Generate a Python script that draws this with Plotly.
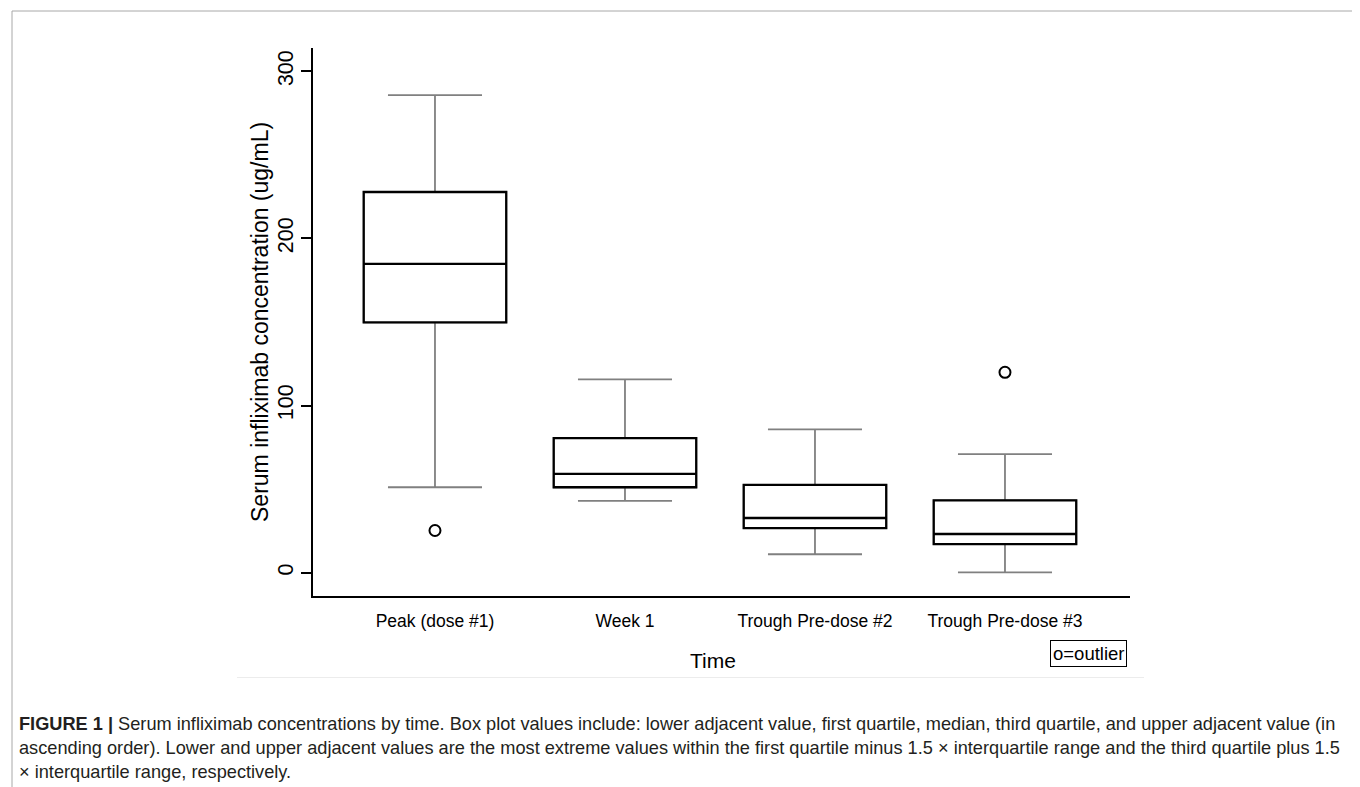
import plotly.graph_objects as go

# ---- data ----
categories = ["Peak (dose #1)", "Week 1", "Trough Pre-dose #2", "Trough Pre-dose #3"]
lower_adjacent = [51.1, 42.9, 11.0, 0.2]
q1_values = [149.8, 51.1, 26.6, 17.1]
median_values = [184.8, 59.1, 32.7, 23.1]
q3_values = [227.8, 80.5, 52.5, 43.2]
upper_adjacent = [285.8, 115.7, 85.7, 70.9]
outlier_categories = ["Peak (dose #1)", "Trough Pre-dose #3"]
outlier_values = [25.2, 119.9]
y_ticks = [0, 100, 200, 300]

caption_lines = [
    "<b>FIGURE 1 |</b> Serum infliximab concentrations by time. Box plot values include: lower adjacent value, first quartile, median, third quartile, and upper adjacent value (in",
    "ascending order). Lower and upper adjacent values are the most extreme values within the first quartile minus 1.5 \u00d7 interquartile range and the third quartile plus 1.5",
    "\u00d7 interquartile range, respectively.",
]

W, H = 1360, 787
ML, MR, MT, MB = 305, 238, 40, 199
PW, PH = W - ML - MR, H - MT - MB


def px_x(x):
    return (x - ML) / PW


def px_y(y):
    return (H - MB - y) / PH


FONT = "Liberation Sans, Arial, Helvetica, sans-serif"

fig = go.Figure()

# whiskers (grey)
fig.add_trace(go.Box(
    x=categories, q1=q1_values, median=median_values, q3=q3_values,
    lowerfence=lower_adjacent, upperfence=upper_adjacent,
    width=0.75, whiskerwidth=0.66,
    line=dict(color="#808080", width=1.8), fillcolor="white",
    boxpoints=False, hoverinfo="skip", showlegend=False,
))
# boxes (black)
fig.add_trace(go.Box(
    x=categories, q1=q1_values, median=median_values, q3=q3_values,
    lowerfence=q1_values, upperfence=q3_values,
    width=0.75, whiskerwidth=0.0,
    line=dict(color="black", width=2.3), fillcolor="white",
    boxpoints=False, showlegend=False,
))
# outliers
fig.add_trace(go.Scatter(
    x=outlier_categories, y=outlier_values, mode="markers",
    marker=dict(symbol="circle-open", size=11, color="black", line=dict(width=2)),
    showlegend=False,
))

fig.update_layout(
    width=W, height=H,
    margin=dict(l=ML, r=MR, t=MT, b=MB, pad=0),
    paper_bgcolor="white", plot_bgcolor="white",
    font=dict(family=FONT, color="black"),
    boxmode="overlay",
)
fig.update_xaxes(
    type="category", categoryorder="array", categoryarray=categories,
    range=[-0.642, 3.658], showgrid=False, zeroline=False,
    showline=True, linecolor="black", linewidth=1.5,
    ticks="", tickfont=dict(size=17.5, family=FONT, color="black"),
    ticklabelstandoff=8,
)
fig.update_yaxes(
    range=[-14, 314], tickvals=y_ticks, ticktext=[str(v) for v in y_ticks],
    showgrid=False, zeroline=False,
    showline=True, linecolor="black", linewidth=1.5,
    ticks="outside", ticklen=10, tickwidth=1.5, tickcolor="black",
    tickangle=-90, tickfont=dict(size=21.5, family=FONT, color="black"),
)

ann = []
ann.append(dict(text="Serum infliximab concentration (ug/mL)", xref="paper", yref="paper",
                x=px_x(252), y=0.5, xanchor="center", yanchor="middle", textangle=-90,
                showarrow=False, font=dict(size=23, family=FONT, color="black")))
ann.append(dict(text="Time", xref="paper", yref="paper", x=px_x(705), y=px_y(652),
                xanchor="center", yanchor="middle", showarrow=False,
                font=dict(size=21, family=FONT, color="black")))
ann.append(dict(text="o=outlier", xref="paper", yref="paper", x=px_x(1080.5), y=px_y(645.5),
                xanchor="center", yanchor="middle", showarrow=False,
                bordercolor="black", borderwidth=1, borderpad=2,
                font=dict(size=18.5, family=FONT, color="black")))
for i, line in enumerate(caption_lines):
    ann.append(dict(text=line, xref="paper", yref="paper", x=px_x(9), y=px_y(716 + 24 * i),
                    xanchor="left", yanchor="middle", showarrow=False, align="left",
                    font=dict(size=18.2, family=FONT, color="#231f20")))
fig.update_layout(annotations=ann)

shapes = [
    dict(type="line", xref="paper", yref="paper", x0=px_x(229), x1=px_x(1136),
         y0=px_y(669.5), y1=px_y(669.5), line=dict(color="#ececec", width=1)),
    dict(type="line", xref="paper", yref="paper", x0=px_x(4), x1=px_x(4),
         y0=px_y(3), y1=px_y(787), line=dict(color="#a8a8a8", width=1)),
    dict(type="line", xref="paper", yref="paper", x0=px_x(1355), x1=px_x(1355),
         y0=px_y(3), y1=px_y(787), line=dict(color="#a8a8a8", width=1)),
    dict(type="line", xref="paper", yref="paper", x0=px_x(4), x1=px_x(1355),
         y0=px_y(3), y1=px_y(3), line=dict(color="#a8a8a8", width=1)),
]
fig.update_layout(shapes=shapes)

fig.write_html("out.html")
